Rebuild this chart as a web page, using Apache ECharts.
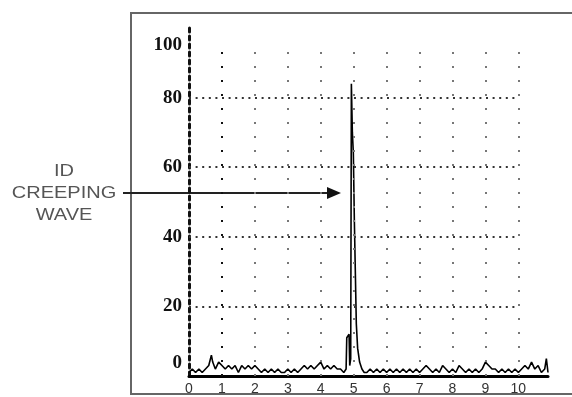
<!DOCTYPE html>
<html>
<head>
<meta charset="utf-8">
<script src="https://cdn.jsdelivr.net/npm/echarts@6/dist/echarts.min.js"></script>
<style>html,body{margin:0;padding:0;background:#fff}#c{width:572px;height:397px}</style>
</head>
<body>
<div id="c"></div>
<script>
const xTicks = [0, 1, 2, 3, 4, 5, 6, 7, 8, 9, 10];
const yTicks = [0, 20, 40, 60, 80, 100];
const gridRows = [20, 40, 60, 80];
const gridCols = [1, 2, 3, 4, 5, 6, 7, 8, 9, 10];
const annotationLines = ['ID', 'CREEPING', 'WAVE'];
const tracePoints = [
  [0,1],[0.1,2],[0.2,1],[0.3,2],[0.4,1],[0.5,2],[0.6,3],[0.68,6],[0.72,4],[0.76,3],[0.8,2],[0.9,4],
  [1.0,3],[1.1,2],[1.2,3],[1.3,2],[1.4,3],[1.5,1],[1.6,3],[1.7,2],[1.8,3],[1.9,2],
  [2.0,3],[2.1,2],[2.2,1],[2.3,2],[2.4,1],[2.5,2],[2.6,1],[2.7,2],[2.8,1],[2.9,1],
  [3.0,2],[3.1,1],[3.2,2],[3.3,1],[3.4,2],[3.5,3],[3.6,2],[3.7,3],[3.8,2],[3.9,3],
  [4.0,4],[4.1,2],[4.2,3],[4.3,2],[4.4,3],[4.5,2],[4.6,2],[4.7,1],[4.77,2],
  [4.79,11],[4.86,12],[4.88,3],[4.91,5],[4.93,84],[4.96,70],[4.99,64],[5.02,45],[5.05,30],
  [5.08,15],[5.12,8],[5.18,4],[5.25,2],[5.32,1],
  [5.4,1],[5.5,2],[5.6,1],[5.7,2],[5.8,1],[5.9,2],[6.0,1],[6.1,2],[6.2,1],[6.3,2],
  [6.4,1],[6.5,2],[6.6,1],[6.7,2],[6.8,1],[6.9,2],[7.0,1],[7.1,2],[7.2,3],[7.3,2],
  [7.4,1],[7.5,2],[7.6,1],[7.7,3],[7.8,2],[7.9,1],[8.0,2],[8.1,1],[8.2,3],[8.3,2],
  [8.4,1],[8.5,2],[8.6,1],[8.7,2],[8.8,1],[8.9,2],[9.0,4],[9.1,3],[9.2,2],[9.3,2],
  [9.4,1],[9.5,2],[9.6,1],[9.7,2],[9.8,1],[9.9,2],[10.0,1],[10.1,2],[10.2,3],[10.3,2],
  [10.4,4],[10.5,2],[10.6,3],[10.7,1],[10.8,2],[10.85,5],[10.9,1]
];

const chart = echarts.init(document.getElementById('c'), null, {renderer: 'canvas'});

const hLines = gridRows.map(v => [
  {coord: [xTicks[0], v], lineStyle: {type: [2, 4.6], width: 2, color: '#333'}},
  {coord: [xTicks[xTicks.length - 1], v]}
]);
const vLines = gridCols.map(v => [
  {coord: [v, 0], lineStyle: {type: [2, 12], width: 2, color: v === 1 ? '#111' : '#777'}},
  {coord: [v, 96]}
]);

chart.setOption({
  animation: false,
  backgroundColor: '#fff',
  grid: {left: 189, right: 24, top: 28, bottom: 21, containLabel: false},
  xAxis: {
    type: 'value', min: 0, max: 10.9, interval: 1,
    axisLine: {show: true, lineStyle: {color: '#000', width: 3}},
    axisTick: {show: false},
    splitLine: {show: false},
    axisLabel: {
      showMaxLabel: false, margin: 6, color: '#333', fontSize: 14,
      fontFamily: 'Liberation Sans',
      formatter: v => xTicks.indexOf(v) >= 0 ? String(v) : ''
    }
  },
  yAxis: {
    type: 'value', min: yTicks[0], max: yTicks[yTicks.length - 1], interval: 20,
    axisLine: {show: true, lineStyle: {color: '#111', width: 3, type: [4, 4]}},
    axisTick: {show: false},
    splitLine: {show: false},
    axisLabel: {
      margin: 7, color: '#111', fontSize: 19, fontWeight: 'bold',
      fontFamily: 'Liberation Serif',
      formatter: v => v === 100 ? '{a|100}' : (v === 0 ? '{b|0}' : '{c|' + v + '}'),
      rich: {
        a: {padding: [34, 0, 0, 0], fontSize: 19, fontWeight: 'bold', fontFamily: 'Liberation Serif', color: '#111'},
        b: {padding: [0, 0, 26, 0], fontSize: 19, fontWeight: 'bold', fontFamily: 'Liberation Serif', color: '#111'},
        c: {fontSize: 19, fontWeight: 'bold', fontFamily: 'Liberation Serif', color: '#111'}
      }
    }
  },
  series: [{
    type: 'line',
    data: tracePoints,
    showSymbol: false,
    symbol: 'none',
    lineStyle: {color: '#000', width: 1.6},
    z: 3,
    markLine: {
      silent: true,
      symbol: ['none', 'none'],
      label: {show: false},
      data: hLines.concat(vLines)
    }
  }],
  graphic: [
    {type: 'rect', z: -1, shape: {x: 131, y: 13, width: 470, height: 381},
     style: {fill: 'none', stroke: '#666', lineWidth: 2}},
    {type: 'line', shape: {x1: 123, y1: 193, x2: 330, y2: 193},
     style: {stroke: '#222', lineWidth: 2}},
    {type: 'polygon', shape: {points: [[341, 193], [327, 187], [327, 199]]},
     style: {fill: '#111'}},
    {type: 'text', x: 64, y: 194, scaleX: 1.25,
     style: {text: annotationLines.join('\n'), x: 0, y: 0, textAlign: 'center', textVerticalAlign: 'middle',
       font: '16px "Liberation Sans"', lineHeight: 22, fill: '#555'}}
  ]
});
</script>
</body>
</html>
